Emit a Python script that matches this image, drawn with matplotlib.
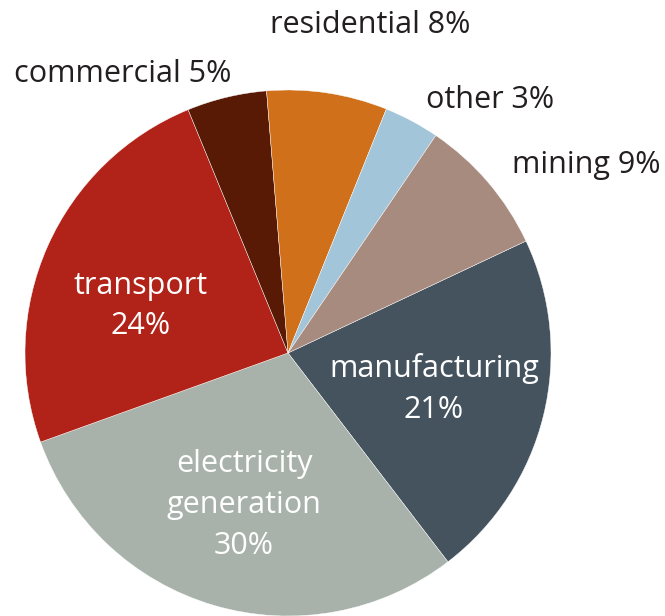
import matplotlib
matplotlib.use("Agg")
import matplotlib.pyplot as plt

categories = ["manufacturing", "electricity\ngeneration", "transport", "commercial",
              "residential", "other", "mining"]
shares = [21.6, 29.9, 24.3, 4.9, 7.4, 3.4, 8.5]
pct_labels = ["21%", "30%", "24%", "5%", "8%", "3%", "9%"]
colors = ["#44535e", "#a8b2aa", "#b12318", "#581a04", "#d0701b", "#a3c5da", "#a88b7f"]

W, H = 665, 616
fig = plt.figure(figsize=(W / 100, H / 100), dpi=100)
ax = fig.add_axes([0, 0, 1, 1])

cx, cy, r = 288, H - 353, 263
ax.pie(shares, colors=colors, startangle=25.2, counterclock=False,
       center=(cx, cy), radius=r, frame=True,
       wedgeprops=dict(edgecolor="white", linewidth=0.3))
ax.set_xlim(0, W)
ax.set_ylim(0, H)
ax.set_aspect("equal")
ax.axis("off")

fam = "Open Sans"
fs = 22

# label positions in pixel coordinates (x, y from top)
inside_pos = {0: (434, 389), 1: (244, 505), 2: (141, 306)}
outside_pos = {3: (123, 74), 4: (370, 25), 5: (490, 100), 6: (586, 165)}

for i, (x, y) in inside_pos.items():
    ax.text(x, H - y, f"{categories[i]}\n{pct_labels[i]}", color="white", ha="center",
            va="center", fontsize=fs, family=fam, linespacing=1.47)
for i, (x, y) in outside_pos.items():
    ax.text(x, H - y, f"{categories[i]} {pct_labels[i]}", color="#231f20", ha="center",
            va="center", fontsize=fs, family=fam)

fig.savefig("out.png", dpi=100)
